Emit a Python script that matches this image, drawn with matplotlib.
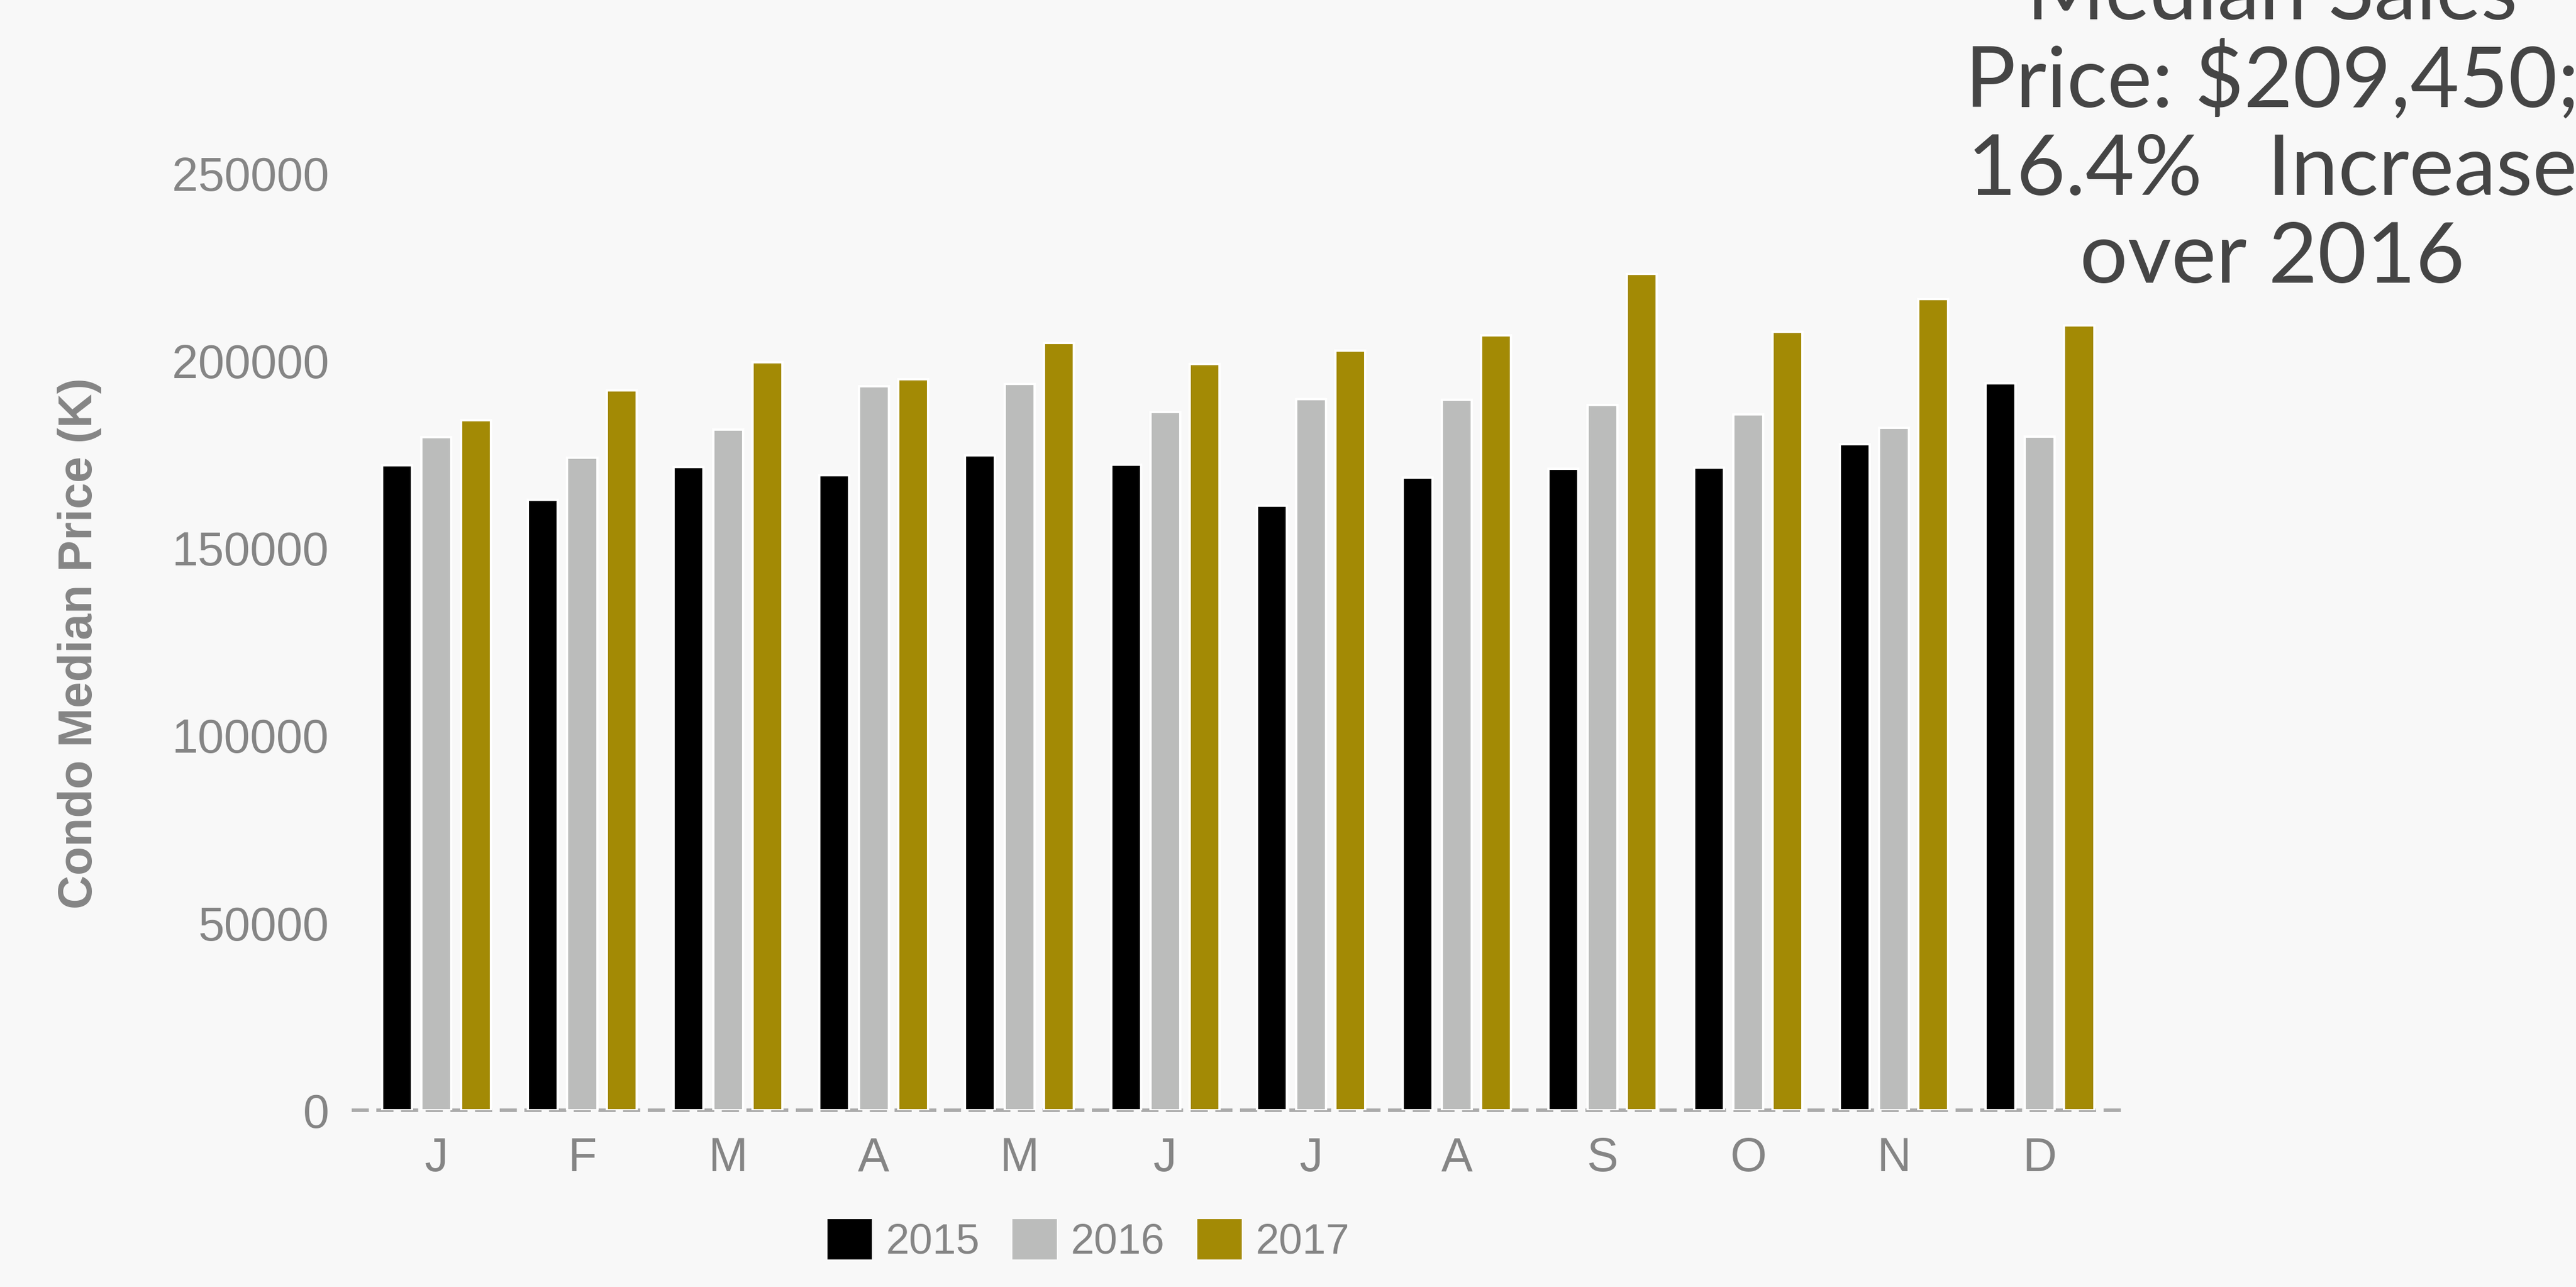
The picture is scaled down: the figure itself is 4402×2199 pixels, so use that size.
"""Condo median sales price by month, 2015-2017 (grouped bars)."""
import numpy as np
import matplotlib
matplotlib.use("Agg")
import matplotlib.pyplot as plt

# ---------------------------------------------------------------------------
# data
# ---------------------------------------------------------------------------
months = ["J", "F", "M", "A", "M", "J", "J", "A", "S", "O", "N", "D"]
years = ["2015", "2016", "2017"]

price_2015 = [172200, 163000, 171700, 169500, 174800, 172300,
              161400, 168900, 171300, 171600, 177800, 194100]
price_2016 = [179700, 174200, 181700, 193300, 193900, 186400,
              189800, 189700, 188300, 185800, 182200, 179800]
price_2017 = [184200, 192200, 199700, 195200, 204800, 199200,
              202800, 206900, 223300, 207800, 216600, 209450]

y_ticks = [0, 50000, 100000, 150000, 200000, 250000]

title_lines = ["Median Sales", "Price: $209,450;", "16.4%   Increase", "over 2016"]

colors = ["#000000", "#bbbcbb", "#a38a05"]
bg = "#f8f8f8"
label_grey = "#858585"

# ---------------------------------------------------------------------------
# plot
# ---------------------------------------------------------------------------
plt.rcParams["font.family"] = ["Liberation Sans", "DejaVu Sans"]

fig = plt.figure(figsize=(22.01, 10.995), dpi=200, facecolor=bg)
ax = fig.add_axes([0.1372, 0.1373, 0.6886, 0.7277])
ax.set_facecolor(bg)

x = np.arange(len(months))
offset = 0.27
width = 0.205
for i, (vals, yr) in enumerate(zip([price_2015, price_2016, price_2017], years)):
    ax.bar(x + (i - 1) * offset, vals, width, color=colors[i], label=yr,
           edgecolor="white", linewidth=1.4, zorder=3)

ax.set_xlim(-0.57, 11.6)
ax.set_ylim(0, 250000)

ax.set_yticks(y_ticks)
ax.set_yticklabels([str(v) for v in y_ticks])
ax.set_xticks(x)
ax.set_xticklabels(months)
ax.tick_params(axis="y", length=0, pad=15, labelsize=29, labelcolor=label_grey)
ax.tick_params(axis="x", length=0, pad=16, labelsize=29, labelcolor=label_grey)

for s in ["top", "right", "left"]:
    ax.spines[s].set_visible(False)
ax.spines["bottom"].set_color("#ababab")
ax.spines["bottom"].set_linewidth(2.2)
ax.spines["bottom"].set_linestyle((0, (3.8, 3.1)))
ax.spines["bottom"].set_zorder(2)

fig.text(0.031, 0.5, "Condo Median Price (K)", rotation=90, ha="center",
         va="center", fontsize=29, fontweight="bold", color=label_grey)

leg = fig.legend(loc="center", bbox_to_anchor=(0.4228, 0.0355), ncol=3,
                 frameon=False, fontsize=26, handlelength=1.0, handleheight=1.0,
                 handletextpad=0.35, columnspacing=0.8, labelcolor=label_grey)
for h in leg.legend_handles:
    h.set_edgecolor(h.get_facecolor())

# title block on the right, partly cut off by the top edge
baselines = [0.985, 0.9168, 0.8486, 0.7804]
for line, yb in zip(title_lines, baselines):
    fig.text(0.882, yb, line, ha="center", va="baseline", fontsize=52,
             color="#454545", family=["Lato", "DejaVu Sans"])

fig.savefig("out.png", dpi=200, facecolor=bg)
